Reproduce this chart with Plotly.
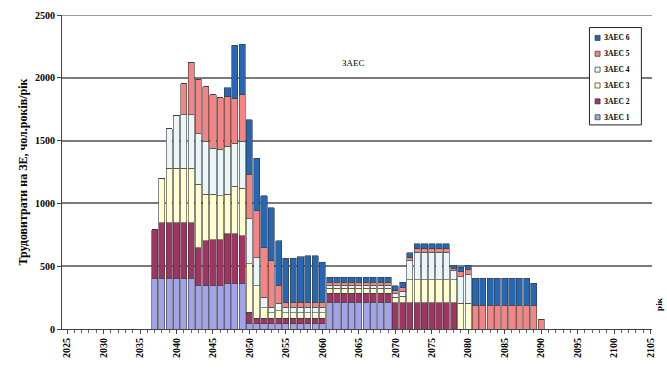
import plotly.graph_objects as go

years = list(range(2037, 2091))

zaes1 = [403, 403, 403, 403, 403, 403, 348, 348, 348, 348, 363, 363, 363,
         47, 43, 43, 43, 43, 43, 43, 43, 43, 43, 43,
         213, 213, 213, 213, 213, 213, 213, 213, 213,
         0, 0, 0, 0, 0, 0, 0, 0, 0, 0, 0,
         0, 0, 0, 0, 0, 0, 0, 0, 0, 0]
zaes2 = [387, 442, 442, 442, 442, 442, 300, 355, 363, 363, 395, 395, 380,
         87, 43, 43, 43, 43, 43, 43, 43, 43, 43, 43,
         71, 71, 71, 71, 71, 71, 71, 71, 71,
         211, 211, 211, 211, 211, 211, 211, 211, 211, 0, 0,
         0, 0, 0, 0, 0, 0, 0, 0, 0, 0]
zaes3 = [0, 355, 435, 435, 435, 435, 505, 371, 363, 348, 316, 380, 379,
         387, 260, 83, 44, 60, 43, 43, 43, 43, 43, 43,
         40, 40, 40, 40, 40, 40, 40, 40, 40,
         40, 50, 182, 182, 182, 182, 182, 182, 182, 205, 205,
         0, 0, 0, 0, 0, 0, 0, 0, 0, 0]
zaes4 = [0, 0, 316, 418, 426, 426, 403, 419, 364, 371, 380, 339, 371,
         356, 223, 84, 44, 59, 43, 43, 43, 43, 43, 43,
         24, 24, 24, 24, 24, 24, 24, 24, 24,
         30, 40, 150, 218, 218, 218, 218, 218, 75, 210, 226,
         0, 0, 0, 0, 0, 0, 0, 0, 0, 0]
zaes5 = [0, 0, 0, 0, 245, 419, 434, 435, 426, 410, 396, 356, 371,
         355, 371, 395, 371, 143, 43, 43, 43, 43, 43, 43,
         23, 23, 23, 23, 23, 23, 23, 23, 23,
         25, 30, 25, 27, 27, 27, 27, 27, 15, 40, 45,
         190, 190, 190, 190, 190, 190, 190, 190, 190, 79]
zaes6 = [0, 0, 0, 0, 0, 0, 0, 0, 0, 0, 70, 427, 404,
         435, 419, 411, 419, 355, 350, 350, 360, 370, 370, 315,
         40, 40, 40, 40, 40, 40, 40, 40, 40,
         40, 40, 40, 39, 39, 39, 39, 39, 23, 35, 30,
         215, 215, 215, 215, 215, 215, 215, 215, 173, 0]

series_names = ["ЗАЕС 1", "ЗАЕС 2", "ЗАЕС 3", "ЗАЕС 4", "ЗАЕС 5", "ЗАЕС 6"]
series_vals = [zaes1, zaes2, zaes3, zaes4, zaes5, zaes6]
colors = ["#A3A3EC", "#A03462", "#FFFFD0", "#EAF6F8", "#F58484", "#2566B5"]

x_ticks = list(range(2025, 2106, 5))
y_ticks = [0, 500, 1000, 1500, 2000, 2500]

FONT = "Liberation Serif"

fig = go.Figure()
for name, vals, col in zip(series_names, series_vals, colors):
    fig.add_trace(go.Bar(
        x=years, y=vals, name=name, width=0.84, showlegend=False,
        marker=dict(color=col, line=dict(color="#3a3a3a", width=0.6)),
    ))

# Compact legend box drawn in paper coordinates (ЗАЕС 6 on top)
shapes = [
    dict(type="line", xref="paper", yref="y", x0=0, x1=1, y0=2500, y1=2500,
         line=dict(color="#7a7a7a", width=1.5), layer="below"),
    dict(type="rect", xref="paper", yref="paper", x0=0.894, x1=0.982,
         y0=0.650, y1=0.960, line=dict(color="#222", width=1),
         fillcolor="white", layer="above"),
]
annotations = [
    dict(text="ЗАЕС", x=0.494, y=0.868, xref="paper", yref="paper",
         showarrow=False, font=dict(family=FONT, size=9, color="black")),
    dict(text="рік", x=1.0, y=0.08, xref="paper", yref="paper",
         xanchor="left", yanchor="middle", textangle=-90, xshift=0,
         showarrow=False,
         font=dict(family=FONT, size=9, color="black", weight="bold")),
]
top_y, step = 0.927, 0.0505
for k, (name, col) in enumerate(zip(series_names[::-1], colors[::-1])):
    yc = top_y - k * step
    shapes.append(dict(type="rect", xref="paper", yref="paper",
                       x0=0.9035, x1=0.912, y0=yc - 0.008, y1=yc + 0.008,
                       fillcolor=col, line=dict(color="#333", width=0.7),
                       layer="above"))
    annotations.append(dict(text=name, x=0.915, y=yc, xref="paper", yref="paper",
                            xanchor="left", yanchor="middle", showarrow=False,
                            font=dict(family=FONT, size=7.5, color="black",
                                      weight="bold")))

fig.update_layout(
    width=667, height=374,
    margin=dict(l=62, r=15, t=9, b=45),
    barmode="stack",
    plot_bgcolor="white", paper_bgcolor="white",
    font=dict(family=FONT, size=9, color="black"),
    showlegend=False,
    xaxis=dict(
        range=[2024.3, 2105.2],
        tickmode="array", tickvals=x_ticks, ticktext=[str(v) for v in x_ticks],
        tickangle=-90,
        tickfont=dict(family=FONT, size=10, color="black", weight="bold"),
        ticks="outside", ticklen=4, tickcolor="#444",
        minor=dict(dtick=1, ticks="outside", ticklen=3, tickcolor="#666"),
        showline=True, linecolor="#444", linewidth=1,
        showgrid=False, zeroline=False,
    ),
    yaxis=dict(
        range=[0, 2500],
        tickmode="array", tickvals=y_ticks,
        tickfont=dict(family=FONT, size=10, color="black", weight="bold"),
        ticks="outside", ticklen=4, tickcolor="#444",
        showline=True, linecolor="#444", linewidth=1,
        showgrid=True, gridcolor="#7a7a7a", gridwidth=1.5,
        zeroline=False,
        title=dict(text="Трудовитрати на ЗЕ, чол.років/рік",
                   font=dict(family=FONT, size=12, color="black", weight="bold"),
                   standoff=4),
    ),
    shapes=shapes,
    annotations=annotations,
)

fig.write_html("out.html")
